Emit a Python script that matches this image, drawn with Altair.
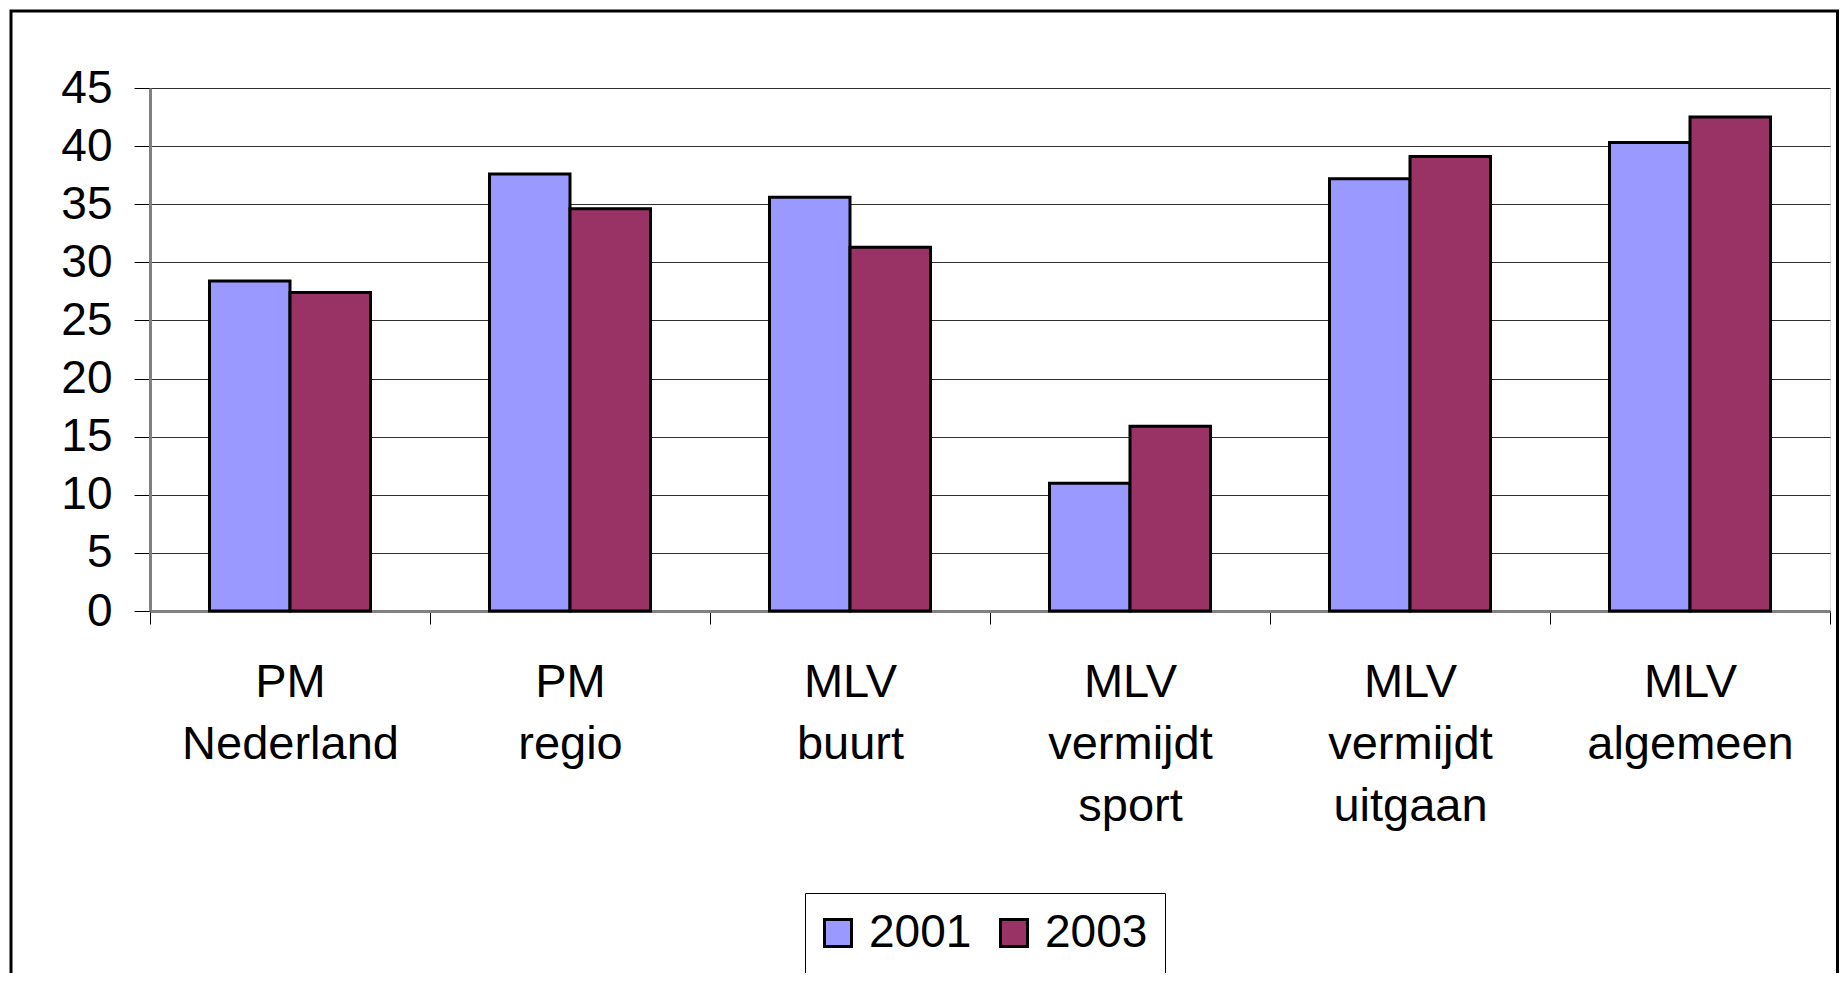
import altair as alt
import pandas as pd

categories = ["PM Nederland", "PM regio", "MLV buurt", "MLV vermijdt sport",
              "MLV vermijdt uitgaan", "MLV algemeen"]
years = ["2001", "2003"]
values_2001 = [28.4, 37.6, 35.6, 11.0, 37.2, 40.3]
values_2003 = [27.4, 34.6, 31.3, 15.9, 39.1, 42.5]
y_ticks = [0, 5, 10, 15, 20, 25, 30, 35, 40, 45]
colors = ["#9999FF", "#993366"]

rows = []
for c, a, b in zip(categories, values_2001, values_2003):
    rows.append({"categorie": c, "jaar": years[0], "waarde": a})
    rows.append({"categorie": c, "jaar": years[1], "waarde": b})
df = pd.DataFrame(rows)

# Two-line labels whose first line sits slightly left in the original
label_expr = (
    "(datum.label == 'PM regio' || datum.label == 'MLV buurt') ? "
    "[split(datum.label, ' ')[0] + '\u00a0\u00a0\u00a0\u00a0', split(datum.label, ' ')[1]] : "
    "split(datum.label, ' ')"
)

bars = alt.Chart(df).mark_bar(stroke="black", strokeWidth=3).encode(
    x=alt.X(
        "categorie:N", sort=categories,
        scale=alt.Scale(paddingInner=0, paddingOuter=0),
        axis=alt.Axis(
            title=None, labelAngle=0, tickBand="extent", tickSize=13,
            tickColor="black", tickWidth=1,
            labelExpr=label_expr, labelFontSize=47,
            labelLineHeight=62, labelPadding=35, labelLimit=400,
            labelColor="black", domainColor="#808080", domainWidth=3,
            grid=False,
        ),
    ),
    xOffset=alt.XOffset("jaar:N", sort=years,
                        scale=alt.Scale(paddingInner=0, paddingOuter=0.739)),
    y=alt.Y(
        "waarde:Q",
        scale=alt.Scale(domain=[0, 45], nice=False),
        axis=alt.Axis(
            title=None, values=y_ticks, tickSize=16, tickColor="black",
            tickWidth=1, labelFontSize=46, labelPadding=22, labelColor="black",
            domainColor="#808080", domainWidth=3, grid=True,
            gridColor="#303030", gridWidth=1,
        ),
    ),
    color=alt.Color(
        "jaar:N",
        scale=alt.Scale(domain=years, range=colors),
        legend=alt.Legend(
            title=None, orient="none", legendX=655, legendY=805,
            direction="horizontal", symbolType="square", symbolSize=729,
            symbolStrokeColor="black", symbolStrokeWidth=3, symbolOpacity=1,
            symbolOffset=-7,
            labelFontSize=46, labelColor="black", labelOffset=8,
            columnPadding=22, padding=17, strokeColor="black",
            fillColor="white",
        ),
    ),
)

frame = alt.Chart(pd.DataFrame({"f": [0]})).mark_rect(
    fillOpacity=0, stroke="black", strokeWidth=3, clip=False
).encode(
    x=alt.value(-139), x2=alt.value(1687.5), y=alt.value(-77), y2=alt.value(1000)
)

chart = alt.layer(bars, frame).properties(
    width=1680, height=523,
    autosize=alt.AutoSizeParams(type="none"),
    padding={"left": 142, "top": 80, "right": 9, "bottom": 362},
).configure_view(
    fill="#C0C0C0", stroke="#808080", strokeWidth=3
).configure(
    font="Liberation Sans", background="white"
)

chart.save("out.html", embed_options={"renderer": "svg", "actions": False})
